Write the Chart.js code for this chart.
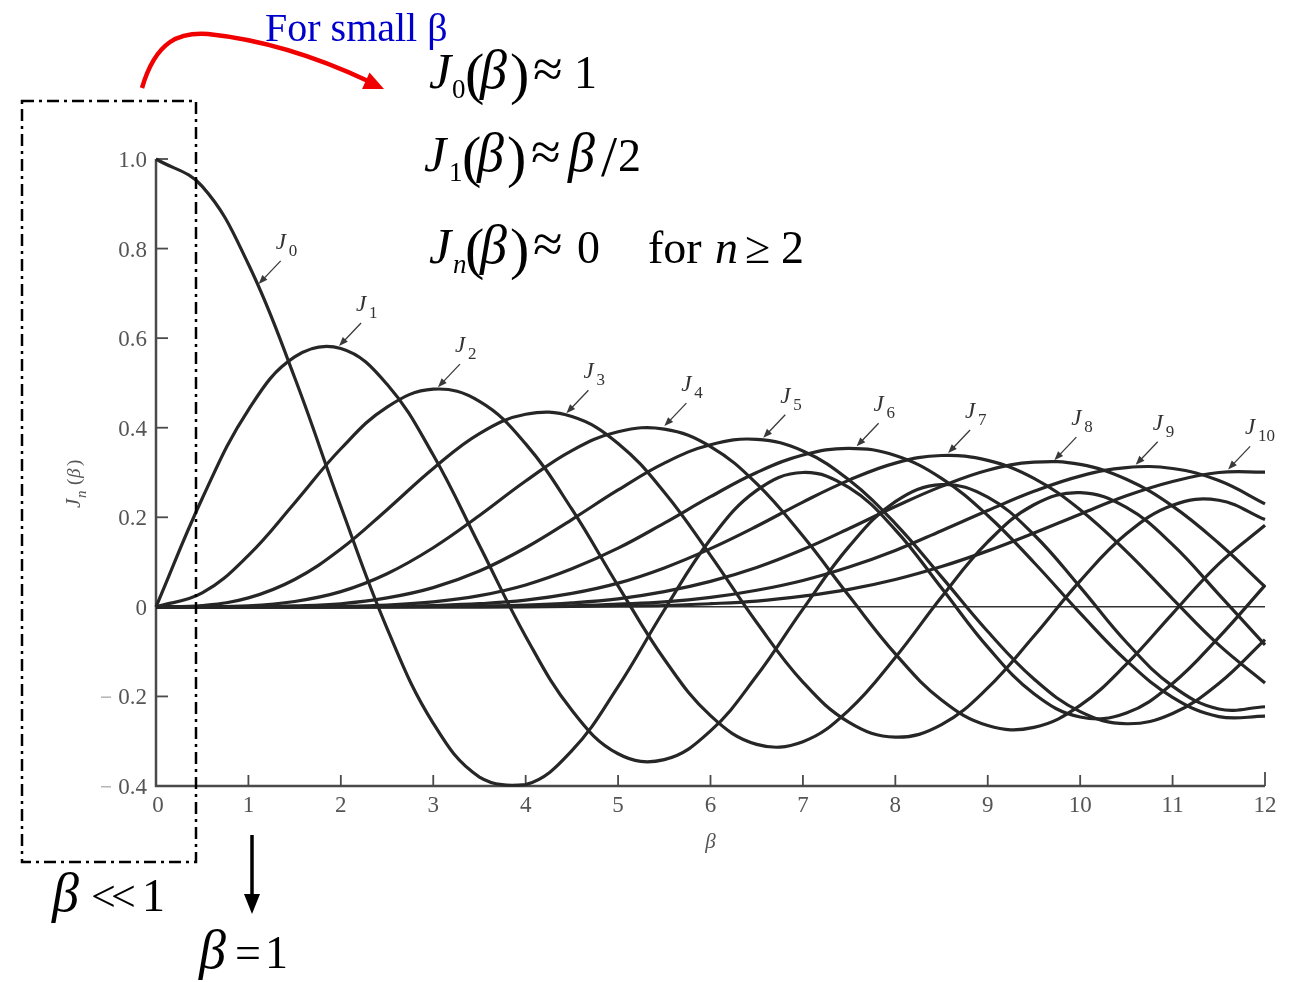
<!DOCTYPE html>
<html>
<head>
<meta charset="utf-8">
<script src="https://cdn.jsdelivr.net/npm/chart.js@4.4.0/dist/chart.umd.min.js"></script>
<style>
  html, body { margin: 0; padding: 0; background: #fff; }
</style>
</head>
<body>
<canvas id="chart" width="1290" height="982"></canvas>
<script>
// beta sample points (0 .. 12, step 0.5)
const betaValues = [0,0.5,1,1.5,2,2.5,3,3.5,4,4.5,5,5.5,6,6.5,7,7.5,8,8.5,9,9.5,10,10.5,11,11.5,12];

// Jn(beta)
const j0 = [1.000,0.939,0.765,0.512,0.224,-0.048,-0.260,-0.380,-0.397,-0.321,-0.178,-0.007,0.151,0.260,0.300,0.266,0.172,0.042,-0.090,-0.194,-0.246,-0.237,-0.171,-0.068,0.048];
const j1 = [0,0.242,0.440,0.558,0.577,0.497,0.339,0.137,-0.066,-0.231,-0.328,-0.341,-0.277,-0.154,-0.005,0.135,0.235,0.273,0.245,0.161,0.044,-0.079,-0.177,-0.228,-0.223];
const j2 = [0,0.031,0.115,0.232,0.353,0.446,0.486,0.459,0.364,0.218,0.047,-0.117,-0.243,-0.307,-0.301,-0.230,-0.113,0.022,0.145,0.228,0.255,0.222,0.139,0.028,-0.085];
const j3 = [0,0.003,0.020,0.061,0.129,0.217,0.309,0.387,0.430,0.425,0.365,0.256,0.115,-0.035,-0.168,-0.258,-0.291,-0.263,-0.181,-0.065,0.058,0.163,0.227,0.238,0.195];
const j4 = [0,0,0.002,0.012,0.034,0.074,0.132,0.204,0.281,0.349,0.391,0.397,0.358,0.275,0.158,0.024,-0.105,-0.208,-0.265,-0.269,-0.220,-0.128,-0.015,0.096,0.182];
const j5 = [0,0,0,0.002,0.007,0.020,0.043,0.080,0.132,0.195,0.261,0.321,0.362,0.374,0.348,0.283,0.186,0.067,-0.055,-0.161,-0.234,-0.261,-0.238,-0.171,-0.073];
const j6 = [0,0,0,0,0.001,0.004,0.011,0.025,0.049,0.085,0.131,0.187,0.246,0.300,0.339,0.354,0.338,0.287,0.204,0.099,-0.014,-0.120,-0.202,-0.245,-0.244];
const j7 = [0,0,0,0,0,0.001,0.003,0.007,0.015,0.030,0.053,0.087,0.130,0.180,0.234,0.283,0.321,0.338,0.327,0.287,0.217,0.124,0.018,-0.085,-0.170];
const j8 = [0,0,0,0,0,0,0.001,0.002,0.004,0.009,0.018,0.034,0.057,0.088,0.128,0.175,0.224,0.269,0.305,0.323,0.318,0.285,0.225,0.142,0.045];
const j9 = [0,0,0,0,0,0,0,0,0.001,0.002,0.006,0.011,0.021,0.037,0.059,0.089,0.126,0.170,0.215,0.258,0.292,0.311,0.309,0.282,0.230];
const j10 = [0,0,0,0,0,0,0,0,0,0.001,0.002,0.003,0.007,0.013,0.024,0.039,0.061,0.090,0.125,0.165,0.207,0.248,0.280,0.300,0.301];

const seriesValues = [j0, j1, j2, j3, j4, j5, j6, j7, j8, j9, j10];
const seriesNames = ["0","1","2","3","4","5","6","7","8","9","10"];

const xTickValues = [0,1,2,3,4,5,6,7,8,9,10,11,12];
const yTickValues = [1.0,0.8,0.6,0.4,0.2,0,-0.2,-0.4];
const yTickLabels = ["1.0","0.8","0.6","0.4","0.2","0","0.2","0.4"];

// beta where each curve label arrow points
const labelBeta = [1.10,1.97,3.04,4.43,5.49,6.56,7.57,8.56,9.71,10.59,11.59];

const SERIF = '"Liberation Serif", "DejaVu Serif", serif';
const INK = "#262626";

function valueAt(arr, b) {
  const i = Math.min(Math.floor(b / 0.5), arr.length - 2);
  const t = (b - betaValues[i]) / 0.5;
  return arr[i] + (arr[i + 1] - arr[i]) * t;
}

// draw a row of text pieces: [text, font, x, dy]
function pieces(ctx, baseY, list, color) {
  ctx.fillStyle = color;
  ctx.textBaseline = "alphabetic";
  ctx.textAlign = "left";
  list.forEach(p => {
    ctx.font = p[1];
    ctx.fillText(p[0], p[2], baseY + (p[3] || 0));
  });
}

function arrowHead(ctx, x1, y1, x2, y2, len, wid) {
  const a = Math.atan2(y2 - y1, x2 - x1);
  ctx.beginPath();
  ctx.moveTo(x2, y2);
  ctx.lineTo(x2 - len * Math.cos(a) + wid * Math.sin(a), y2 - len * Math.sin(a) - wid * Math.cos(a));
  ctx.lineTo(x2 - len * Math.cos(a) - wid * Math.sin(a), y2 - len * Math.sin(a) + wid * Math.cos(a));
  ctx.closePath();
  ctx.fill();
}

const decor = {
  id: "decor",
  beforeDatasetsDraw(chart) {
    const ctx = chart.ctx;
    const xs = chart.scales.x, ys = chart.scales.y;
    const x0 = xs.getPixelForValue(0), x12 = xs.getPixelForValue(12);
    const yBot = ys.getPixelForValue(-0.4), yTop = ys.getPixelForValue(1.0);
    ctx.save();

    // zero line
    ctx.strokeStyle = "#333";
    ctx.lineWidth = 1.5;
    ctx.beginPath();
    ctx.moveTo(x0, ys.getPixelForValue(0));
    ctx.lineTo(x12, ys.getPixelForValue(0));
    ctx.stroke();

    // axes
    ctx.strokeStyle = "#4a4a4a";
    ctx.lineWidth = 2.5;
    ctx.beginPath();
    ctx.moveTo(x0, yTop);
    ctx.lineTo(x0, yBot);
    ctx.lineTo(x12, yBot);
    ctx.stroke();

    // ticks pointing inward
    ctx.lineWidth = 1.8;
    yTickValues.forEach(v => {
      const py = ys.getPixelForValue(v);
      ctx.beginPath();
      ctx.moveTo(x0, py);
      ctx.lineTo(x0 + 12, py);
      ctx.stroke();
    });
    xTickValues.forEach(v => {
      if (v === 0) return;
      const px = xs.getPixelForValue(v);
      ctx.beginPath();
      ctx.moveTo(px, yBot);
      ctx.lineTo(px, yBot - (v === 12 ? 14 : 11));
      ctx.stroke();
    });

    // tick labels
    ctx.fillStyle = "#555";
    ctx.font = "23px " + SERIF;
    ctx.textBaseline = "alphabetic";
    ctx.textAlign = "right";
    yTickValues.forEach((v, i) => {
      const py = ys.getPixelForValue(v);
      ctx.fillText(yTickLabels[i], x0 - 9, py + 8);
      if (v < 0) {
        ctx.fillStyle = "#b5b5b5";
        ctx.fillRect(x0 - 55, py, 10, 1.5);
        ctx.fillStyle = "#555";
      }
    });
    ctx.textAlign = "center";
    xTickValues.forEach(v => {
      ctx.fillText(String(v), xs.getPixelForValue(v) + (v === 0 ? 2 : 0), yBot + 26);
    });

    // axis titles
    ctx.font = "italic 21px " + SERIF;
    ctx.fillText("\u03B2", xs.getPixelForValue(6), yBot + 62);

    ctx.translate(80, 478);
    ctx.rotate(-Math.PI / 2);
    ctx.textAlign = "left";
    ctx.font = "italic 21px " + SERIF;
    ctx.fillText("J", -30, 0);
    ctx.font = "italic 15px " + SERIF;
    ctx.fillText("n", -20, 6);
    ctx.font = "19px " + SERIF;
    ctx.fillText("(", -7, 0);
    ctx.font = "italic 19px " + SERIF;
    ctx.fillText("\u03B2", 0, 0);
    ctx.font = "19px " + SERIF;
    ctx.fillText(")", 12, 0);
    ctx.restore();
  },
  afterDraw(chart) {
    const ctx = chart.ctx;
    const xs = chart.scales.x, ys = chart.scales.y;
    ctx.save();

    // curve labels with little arrows
    seriesValues.forEach((arr, i) => {
      const b = labelBeta[i];
      const tx = xs.getPixelForValue(b);
      const ty = ys.getPixelForValue(valueAt(arr, b)) - 2;
      ctx.strokeStyle = "#3a3a3a";
      ctx.fillStyle = "#3a3a3a";
      ctx.lineWidth = 1.3;
      ctx.beginPath();
      ctx.moveTo(tx + 23, ty - 24);
      ctx.lineTo(tx + 4, ty - 4);
      ctx.stroke();
      arrowHead(ctx, tx + 23, ty - 24, tx + 1, ty - 1, 9, 3.5);
      ctx.fillStyle = "#333";
      ctx.font = "italic 23px " + SERIF;
      ctx.textAlign = "left";
      ctx.fillText("J", tx + 18, ty - 36);
      ctx.font = "17px " + SERIF;
      ctx.fillText(seriesNames[i], tx + 31, ty - 29);
    });

    // dash-dot box around small beta region
    ctx.strokeStyle = "#000";
    ctx.lineWidth = 2.5;
    ctx.setLineDash([12, 5, 3, 5]);
    ctx.strokeRect(22, 101, 174, 761);
    ctx.setLineDash([]);

    // red curved arrow
    ctx.strokeStyle = "#f00000";
    ctx.fillStyle = "#f00000";
    ctx.lineWidth = 4.5;
    ctx.beginPath();
    ctx.moveTo(142, 88);
    ctx.bezierCurveTo(156, 40, 180, 32, 208, 34);
    ctx.quadraticCurveTo(285, 42, 368, 81);
    ctx.stroke();
    arrowHead(ctx, 340, 69, 384, 89, 20, 9);

    // down arrow to beta = 1
    ctx.strokeStyle = "#000";
    ctx.fillStyle = "#000";
    ctx.lineWidth = 3.5;
    ctx.beginPath();
    ctx.moveTo(252, 835);
    ctx.lineTo(252, 895);
    ctx.stroke();
    arrowHead(ctx, 252, 880, 252, 914, 20, 8);

    // blue caption
    ctx.fillStyle = "#0000cc";
    ctx.font = "40px " + SERIF;
    ctx.textAlign = "left";
    ctx.fillText("For small \u03B2", 265, 41);

    // formulas
    const itJ = "italic 50px " + SERIF;
    const it = "italic 46px " + SERIF;
    const itB = "italic 54px " + SERIF;
    const up = "46px " + SERIF;
    const approx = "54px " + SERIF;
    const par = "58px " + SERIF;
    const sub = "27px " + SERIF;
    pieces(ctx, 88, [
      ["J", itJ, 429], ["0", sub, 452, 10], ["(", par, 465, 5], ["\u03B2", itB, 480],
      [")", par, 510, 5], ["\u2248", approx, 533, -1], ["1", up, 574]
    ], "#000");
    pieces(ctx, 171, [
      ["J", itJ, 424], ["1", sub, 449, 10], ["(", par, 462, 5], ["\u03B2", itB, 477],
      [")", par, 507, 5], ["\u2248", approx, 531, -1], ["\u03B2", itB, 568], ["/", par, 601, 5], ["2", up, 618]
    ], "#000");
    pieces(ctx, 263, [
      ["J", itJ, 429], ["n", "italic 27px " + SERIF, 453, 10], ["(", par, 465, 5], ["\u03B2", itB, 480],
      [")", par, 510, 5], ["\u2248", approx, 533, -1], ["0", up, 577],
      ["for", up, 648], ["n", it, 715], ["\u2265", up, 745], ["2", up, 781]
    ], "#000");

    pieces(ctx, 911, [["\u03B2", itB, 52], ["<", "44px " + SERIF, 91], ["<", "44px " + SERIF, 111], ["1", up, 142]], "#000");
    pieces(ctx, 968, [["\u03B2", itB, 199], ["=", up, 235], ["1", up, 265]], "#000");

    ctx.restore();
  }
};

new Chart(document.getElementById("chart"), {
  type: "line",
  data: {
    datasets: seriesValues.map((arr, i) => ({
      label: "J" + seriesNames[i],
      data: betaValues.map((b, k) => ({ x: b, y: arr[k] })),
      borderColor: INK,
      borderWidth: 3.2,
      pointRadius: 0,
      fill: false,
      clip: false,
      tension: 0.4
    }))
  },
  options: {
    responsive: false,
    animation: false,
    layout: { padding: { left: 156, right: 25, top: 159, bottom: 196 } },
    scales: {
      x: { type: "linear", min: 0, max: 12, display: false },
      y: { type: "linear", min: -0.4, max: 1.0, display: false }
    },
    plugins: {
      legend: { display: false },
      tooltip: { enabled: false }
    }
  },
  plugins: [decor]
});
</script>
</body>
</html>
